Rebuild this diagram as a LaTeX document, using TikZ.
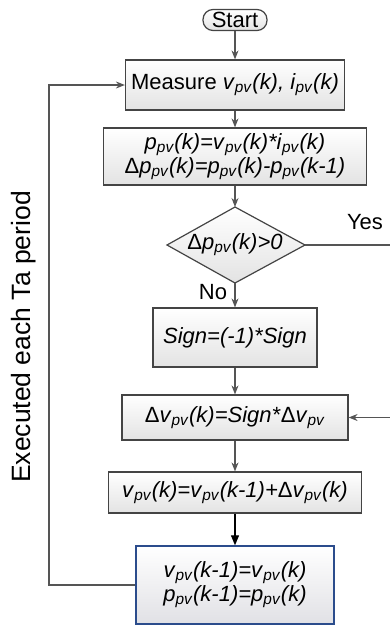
\documentclass[tikz,border=0pt]{standalone}
\usepackage{fontspec}
\setmainfont{Liberation Sans}
\usetikzlibrary{shapes.geometric,arrows.meta}
\newcommand\pvs{\textsubscript{\textit{pv}}}
\definecolor{lncol}{HTML}{555555}
\definecolor{bdcol}{HTML}{444444}
\definecolor{bluebd}{HTML}{2B4C8C}
\begin{document}
\begin{tikzpicture}[x=1pt,y=-1pt,
  txt/.style={font=\fontsize{22}{26}\selectfont},
  procbox/.style={txt,draw=bdcol,line width=1.2pt,top color=white,bottom color=gray!22,
    minimum width=#1,inner sep=0pt,align=center},
  arr/.style={draw=lncol,line width=1.1pt,-{Stealth[length=9pt,width=7pt]}},
  plainln/.style={draw=lncol,line width=1.1pt}]
\useasboundingbox (0,0) rectangle (390,627);
\clip (0,0) rectangle (390,627);
\node[txt,draw=bdcol,line width=1.2pt,rounded corners=10pt,top color=white,bottom color=gray!22,
  minimum width=64pt,minimum height=21pt,inner sep=0pt] (start) at (235,20) {Start};
\node[procbox=219pt,minimum height=50pt] (meas) at (235,85)
  {Measure \textit{v}\pvs\textit{(k), i}\pvs\textit{(k)}};
\node[procbox=263pt,minimum height=57pt] (pw) at (235,156.5)
  {\textit{p}\pvs\textit{(k)=v}\pvs\textit{(k)*i}\pvs\textit{(k)}\\[-2pt]
   Δ\textit{p}\pvs\textit{(k)=p}\pvs\textit{(k)-p}\pvs\textit{(k-1)}};
% decision diamond
\coordinate (decw) at (167,245);
\coordinate (decn) at (235,207);
\coordinate (dece) at (305,245);
\coordinate (decs) at (235,283);
\shade[top color=white,bottom color=gray!22] (decw) -- (decn) -- (dece) -- (decs) -- cycle;
\draw[draw=bdcol,line width=1.2pt] (decw) -- (decn) -- (dece) -- (decs) -- cycle;
\node[txt,inner sep=0pt] (dec) at (235,245) {Δ\textit{p}\pvs\textit{(k)>0}};
\node[procbox=164pt,minimum height=59pt] (sign) at (235,337.5)
  {\textit{Sign=(-1)*Sign}};
\node[procbox=226pt,minimum height=45pt] (dv) at (235,417.5)
  {Δ\textit{v}\pvs\textit{(k)=Sign*}Δ\textit{v}\pvs};
\node[procbox=253pt,minimum height=41pt] (vk) at (235,492.5)
  {\textit{v}\pvs\textit{(k)=v}\pvs\textit{(k-1)+}Δ\textit{v}\pvs\textit{(k)}};
\node[txt,draw=bluebd,line width=1.4pt,top color=white,bottom color=blue!8!gray!22,
  minimum width=198pt,minimum height=78pt,inner sep=0pt,align=center] (upd) at (235,585)
  {\textit{v}\pvs\textit{(k-1)=v}\pvs\textit{(k)}\\[-2pt]
   \textit{p}\pvs\textit{(k-1)=p}\pvs\textit{(k)}};
\draw[arr] (start) -- (meas);
\draw[arr] (meas) -- (pw);
\draw[arr] (pw) -- (decn);
\draw[arr] (decs) -- (sign);
\draw[arr] (sign) -- (dv);
\draw[arr] (dv) -- (vk);
\draw[line width=1.2pt,-{Triangle[length=10pt,width=8pt]}] (vk) -- (upd);
\coordinate (fb1) at (49,585);
\coordinate (fb2) at (49,85);
\draw[arr] (upd.west) -- (fb1) -- (fb2) -- (meas.west);
\coordinate (ye) at (395,245);
\coordinate (yr) at (395,417.5);
\draw[plainln] (dece) -- (ye);
\draw[arr] (yr) -- (dv.east);
\node[txt] (yes) at (365,222) {Yes};
\node[txt] (no) at (213,292) {No};
\node[font=\fontsize{26.5}{30}\selectfont,rotate=90] (exe) at (24,337) {Executed each Ta period};
\end{tikzpicture}
\end{document}
